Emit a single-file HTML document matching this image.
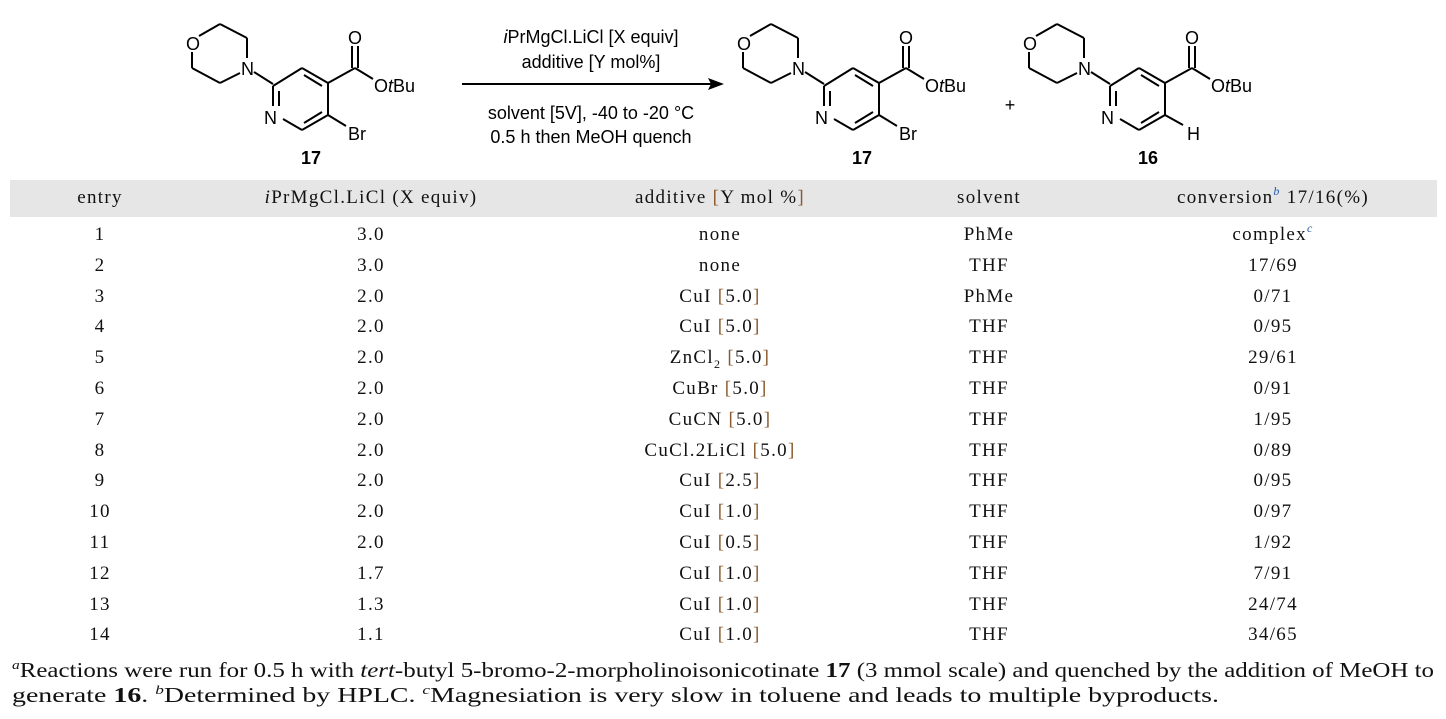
<!DOCTYPE html>
<html><head><meta charset="utf-8"><style>
body{margin:0;width:1446px;height:719px;background:#fff;position:relative;overflow:hidden;font-family:"Liberation Serif",serif;color:#111}
.a{position:absolute;white-space:nowrap}
.c{transform:translateX(-50%)}
.t{font-size:19px;letter-spacing:1.3px}
.br{color:#8a5a2e}
sup{font-size:12px;color:#2a5caa;vertical-align:8px;line-height:0}
.fn sup{color:#111;font-style:italic;font-size:13px}
.fn{font-size:21px;left:12px;line-height:25px;transform-origin:0 0;display:inline-block}
</style></head><body>
<svg class="a" style="left:0;top:0" width="1446" height="180" font-family="Liberation Sans, sans-serif" font-size="18">
<defs>
<g id="m" stroke="#000" stroke-width="2" fill="none">
<line x1="199" y1="36" x2="220" y2="24"/><line x1="220" y1="24" x2="247" y2="38"/><line x1="247" y1="38" x2="247" y2="58"/>
<line x1="240" y1="73" x2="220" y2="83"/><line x1="220" y1="83" x2="192" y2="68"/><line x1="192" y1="68" x2="192" y2="52"/>
<line x1="254" y1="72" x2="273" y2="84"/>
<line x1="273" y1="86" x2="302" y2="68"/><line x1="302" y1="68" x2="328" y2="83"/><line x1="328" y1="83" x2="328" y2="115"/>
<line x1="328" y1="115" x2="302" y2="130"/><line x1="302" y1="130" x2="283" y2="119"/><line x1="273" y1="86" x2="273" y2="106"/>
<line x1="279" y1="91" x2="279" y2="106"/><line x1="304" y1="75" x2="322" y2="86"/><line x1="304" y1="123" x2="322" y2="112"/>
<line x1="328" y1="83" x2="355" y2="68"/><line x1="352" y1="68" x2="352" y2="46"/><line x1="358" y1="68" x2="358" y2="46"/>
<line x1="355" y1="68" x2="373" y2="79"/>
</g>
</defs>
<use href="#m"/>
<g fill="#000"><text x="186" y="50">O</text><text x="241" y="75">N</text><text x="264" y="124">N</text><text x="348" y="44">O</text>
<text x="374" y="92">O<tspan font-style="italic">t</tspan>Bu</text><text x="348" y="140">Br</text>
<line x1="328" y1="115" x2="346" y2="126" stroke="#000" stroke-width="2"/>
<text x="311" y="164" font-weight="bold" text-anchor="middle">17</text></g>
<g transform="translate(551,0)"><use href="#m"/>
<g fill="#000"><text x="186" y="50">O</text><text x="241" y="75">N</text><text x="264" y="124">N</text><text x="348" y="44">O</text>
<text x="374" y="92">O<tspan font-style="italic">t</tspan>Bu</text><text x="348" y="140">Br</text>
<line x1="328" y1="115" x2="346" y2="126" stroke="#000" stroke-width="2"/>
<text x="311" y="164" font-weight="bold" text-anchor="middle">17</text></g></g>
<g transform="translate(837,0)"><use href="#m"/>
<g fill="#000"><text x="186" y="50">O</text><text x="241" y="75">N</text><text x="264" y="124">N</text><text x="348" y="44">O</text>
<text x="374" y="92">O<tspan font-style="italic">t</tspan>Bu</text><text x="350" y="140">H</text>
<line x1="328" y1="115" x2="346" y2="125" stroke="#000" stroke-width="2"/>
<text x="311" y="164" font-weight="bold" text-anchor="middle">16</text></g></g>
<text x="1010" y="111" text-anchor="middle">+</text>
<line x1="462" y1="84" x2="712" y2="84" stroke="#000" stroke-width="2"/>
<polygon points="724,84 708,78 711,84 708,90" fill="#000"/>
<g text-anchor="middle"><text x="591" y="43"><tspan font-style="italic">i</tspan>PrMgCl.LiCl [X equiv]</text>
<text x="591" y="68">additive [Y mol%]</text>
<text x="591" y="119">solvent [5V], -40 to -20 °C</text>
<text x="591" y="143">0.5 h then MeOH quench</text></g>
</svg>
<div class="a" style="left:10px;top:180px;width:1427px;height:37px;background:#e6e6e6"></div>
<div class="a t c" style="left:100px;top:187px">entry</div>
<div class="a t c" style="left:371px;top:187px"><i>i</i>PrMgCl.LiCl (X equiv)</div>
<div class="a t c" style="left:720px;top:187px">additive <span class="br">[</span>Y mol %<span class="br">]</span></div>
<div class="a t c" style="left:989px;top:187px">solvent</div>
<div class="a t c" style="left:1273px;top:187px">conversion<sup><i>b</i></sup> 17/16(%)</div>
<div id="rows"></div>
<div class="a fn" id="f1" style="top:658px"><sup>a</sup>Reactions were run for 0.5 h with <i>tert</i>-butyl 5-bromo-2-morpholinoisonicotinate <b>17</b> (3 mmol scale) and quenched by the addition of MeOH to</div>
<div class="a fn" id="f2" style="top:683px">generate <b>16</b>. <sup>b</sup>Determined by HPLC. <sup>c</sup>Magnesiation is very slow in toluene and leads to multiple byproducts.</div>
<script>
var d=[["1","3.0","none","PhMe","complex<sup><i>c</i></sup>"],["2","3.0","none","THF","17/69"],["3","2.0","CuI [5.0]","PhMe","0/71"],["4","2.0","CuI [5.0]","THF","0/95"],["5","2.0","ZnCl<sub style='font-size:12px;line-height:0'>2</sub> [5.0]","THF","29/61"],["6","2.0","CuBr [5.0]","THF","0/91"],["7","2.0","CuCN [5.0]","THF","1/95"],["8","2.0","CuCl.2LiCl [5.0]","THF","0/89"],["9","2.0","CuI [2.5]","THF","0/95"],["10","2.0","CuI [1.0]","THF","0/97"],["11","2.0","CuI [0.5]","THF","1/92"],["12","1.7","CuI [1.0]","THF","7/91"],["13","1.3","CuI [1.0]","THF","24/74"],["14","1.1","CuI [1.0]","THF","34/65"]];
var xs=[100,371,720,989,1273],h="";
d.forEach(function(r,i){var y=224+i*30.8;r.forEach(function(v,j){v=v.replace("[","<span class='br'>[</span>").replace("]","<span class='br'>]</span>");h+="<div class='a t c' style='left:"+xs[j]+"px;top:"+y+"px'>"+v+"</div>";});});
document.getElementById("rows").innerHTML=h;
function fit(id,w){var e=document.getElementById(id);var n=e.getBoundingClientRect().width;e.style.transform="scaleX("+(w/n)+")";}
fit("f1",1422);fit("f2",1207);
</script>
</body></html>
